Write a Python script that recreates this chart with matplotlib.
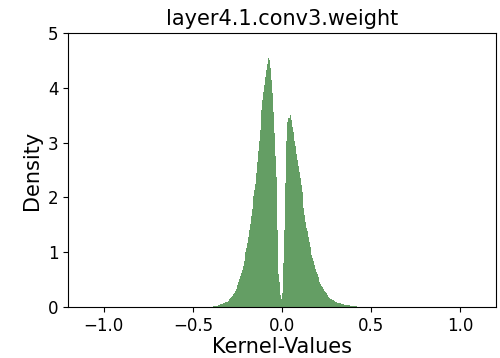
import numpy as np
import matplotlib
matplotlib.use("Agg")
import matplotlib.pyplot as plt

title = "layer4.1.conv3.weight"
xlabel = "Kernel-Values"
ylabel = "Density"

bin_start = -0.400
bin_width = 0.005
densities = [
    0.005, 0.005, 0.008, 0.010, 0.012, 0.015, 0.018, 0.022, 0.028, 0.035,
    0.042, 0.050, 0.055, 0.062, 0.070, 0.078, 0.085, 0.095, 0.100, 0.110,
    0.120, 0.140, 0.160, 0.180, 0.200, 0.230, 0.260, 0.290, 0.330, 0.370,
    0.410, 0.460, 0.510, 0.560, 0.620, 0.680, 0.750, 0.830, 0.920, 1.000,
    1.080, 1.170, 1.280, 1.400, 1.520, 1.660, 1.780, 1.900, 2.020, 2.130,
    2.250, 2.450, 2.650, 2.850, 3.030, 3.220, 3.400, 3.600, 3.780, 3.920,
    4.050, 4.200, 4.320, 4.440, 4.540, 4.500, 4.460, 4.360, 4.150, 3.900,
    3.550, 3.170, 2.750, 2.380, 1.400, 0.850, 0.600, 0.450, 0.220, 0.150,
    0.250, 0.800, 1.400, 2.260, 2.680, 3.020, 3.380, 3.450, 3.440, 3.500,
    3.420, 3.290, 3.200, 3.140, 3.030, 2.930, 2.800, 2.680, 2.570, 2.470,
    2.350, 2.230, 2.100, 1.990, 1.800, 1.680, 1.550, 1.450, 1.380, 1.280,
    1.180, 1.100, 1.020, 0.950, 0.900, 0.840, 0.760, 0.700, 0.640, 0.600,
    0.540, 0.500, 0.460, 0.420, 0.390, 0.360, 0.330, 0.300, 0.270, 0.250,
    0.230, 0.210, 0.190, 0.170, 0.150, 0.140, 0.130, 0.120, 0.110, 0.100,
    0.095, 0.090, 0.080, 0.075, 0.070, 0.065, 0.060, 0.055, 0.050, 0.045,
    0.040, 0.038, 0.035, 0.032, 0.030, 0.028, 0.025, 0.022, 0.020, 0.018,
    0.016, 0.014, 0.012, 0.010, 0.008, 0.006, 0.005, 0.004, 0.003, 0.002,
]
xticks = [-1.0, -0.5, 0.0, 0.5, 1.0]
yticks = [0, 1, 2, 3, 4, 5]

edges = bin_start + bin_width * np.arange(len(densities) + 1)

fig = plt.figure(figsize=(5.0, 3.58), dpi=100)
ax = fig.add_axes([0.136, 0.1425, 0.856, 0.7655])
ax.stairs(densities, edges, fill=True, color="#649e64", linewidth=0)
ax.set_xlim(-1.2, 1.2)
ax.set_ylim(0, 5)
ax.set_xticks(xticks)
ax.set_yticks(yticks)
ax.tick_params(labelsize=12)
ax.set_title(title, fontsize=15)
ax.set_xlabel(xlabel, fontsize=15, labelpad=2)
ax.set_ylabel(ylabel, fontsize=15)
fig.savefig("out.png", dpi=100)
